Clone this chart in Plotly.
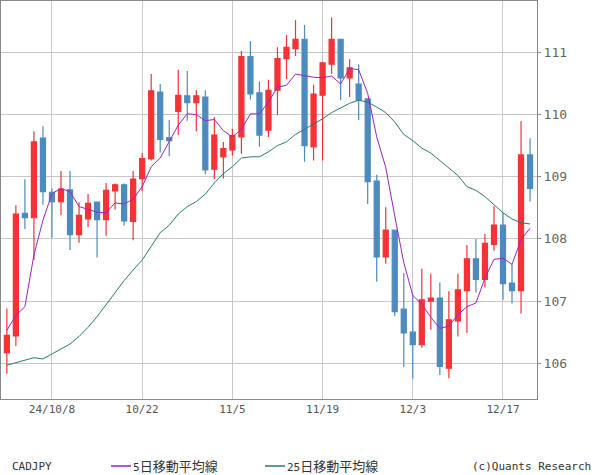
import plotly.graph_objects as go

dates = [
    "2024-10-01", "2024-10-02", "2024-10-03", "2024-10-04",
    "2024-10-07", "2024-10-08", "2024-10-09", "2024-10-10", "2024-10-11",
    "2024-10-14", "2024-10-15", "2024-10-16", "2024-10-17", "2024-10-18",
    "2024-10-21", "2024-10-22", "2024-10-23", "2024-10-24", "2024-10-25",
    "2024-10-28", "2024-10-29", "2024-10-30", "2024-10-31", "2024-11-01",
    "2024-11-04", "2024-11-05", "2024-11-06", "2024-11-07", "2024-11-08",
    "2024-11-11", "2024-11-12", "2024-11-13", "2024-11-14", "2024-11-15",
    "2024-11-18", "2024-11-19", "2024-11-20", "2024-11-21", "2024-11-22",
    "2024-11-25", "2024-11-26", "2024-11-27", "2024-11-28", "2024-11-29",
    "2024-12-02", "2024-12-03", "2024-12-04", "2024-12-05", "2024-12-06",
    "2024-12-09", "2024-12-10", "2024-12-11", "2024-12-12", "2024-12-13",
    "2024-12-16", "2024-12-17", "2024-12-18", "2024-12-19", "2024-12-20",
]

opens = [106.17, 106.44, 108.41, 108.34, 109.62, 108.75, 108.60, 108.79, 108.07, 108.32,
         108.59, 108.31, 108.77, 108.87, 108.28, 108.97, 109.29, 110.36, 109.63, 110.05,
         110.30, 110.19, 110.28, 109.12, 109.32, 109.43, 109.64, 110.93, 110.35, 109.75,
         110.39, 110.90, 111.06, 111.21, 109.48, 110.31, 110.81, 111.21, 110.59, 110.49,
         110.25, 108.93, 107.71, 108.14, 106.87, 106.50, 106.30, 107.00, 107.05, 105.92,
         106.68, 107.17, 107.68, 107.35, 107.91, 108.22, 107.29, 107.17, 109.35]
highs = [106.88, 108.54, 108.96, 109.73, 109.81, 108.81, 109.09, 109.09, 108.59, 108.72,
         108.59, 108.90, 108.89, 108.89, 109.09, 109.38, 110.65, 110.49, 109.91, 110.72,
         110.70, 110.39, 110.39, 109.96, 109.56, 109.77, 111.02, 111.18, 110.53, 110.56,
         111.08, 111.28, 111.52, 111.44, 110.48, 110.85, 111.56, 111.21, 110.89, 110.81,
         110.25, 109.03, 108.51, 108.14, 107.45, 107.10, 107.52, 107.44, 107.30, 107.16,
         107.44, 107.90, 108.00, 108.08, 108.53, 108.42, 107.60, 109.89, 109.62]
lows = [105.83, 106.28, 108.16, 107.66, 108.55, 108.02, 108.38, 107.82, 107.94, 108.19,
        107.70, 108.05, 108.47, 108.21, 107.98, 108.77, 109.26, 109.39, 109.33, 109.67,
        109.90, 109.73, 109.04, 108.96, 108.97, 109.34, 109.37, 110.24, 109.48, 109.64,
        109.99, 110.57, 110.94, 109.24, 109.26, 109.26, 110.65, 110.23, 110.28, 109.91,
        108.56, 107.31, 107.60, 106.76, 105.94, 105.75, 106.25, 106.54, 105.81, 105.76,
        106.43, 106.49, 107.14, 107.22, 107.81, 107.02, 106.96, 106.80, 108.60]
closes = [106.45, 108.40, 108.34, 109.56, 108.76, 108.60, 108.80, 108.07, 108.38, 108.57,
          108.31, 108.78, 108.87, 108.29, 108.96, 109.29, 110.38, 109.60, 109.58, 110.31,
          110.19, 110.30, 109.11, 109.67, 109.45, 109.66, 110.93, 110.33, 109.67, 110.39,
          110.90, 111.08, 111.21, 109.50, 110.33, 110.83, 111.21, 110.59, 110.75, 110.23,
          108.92, 107.71, 108.14, 106.83, 106.49, 106.30, 107.02, 107.05, 105.95, 106.70,
          107.18, 107.68, 107.35, 107.93, 108.22, 107.28, 107.17, 109.35, 108.81]

ma5 = [106.53, 106.77, 106.91, 107.74, 108.30, 108.73, 108.81, 108.76, 108.52, 108.48,
       108.43, 108.42, 108.58, 108.56, 108.64, 108.84, 109.16, 109.30, 109.56, 109.83,
       110.01, 110.00, 109.90, 109.92, 109.74, 109.64, 109.76, 110.01, 110.01, 110.20,
       110.44, 110.47, 110.65, 110.62, 110.60, 110.59, 110.62, 110.49, 110.74, 110.72,
       110.34, 109.64, 109.15, 108.37, 107.62, 107.09, 106.95, 106.74, 106.56, 106.60,
       106.78, 106.91, 106.97, 107.37, 107.67, 107.69, 107.59, 107.99, 108.17]
ma25 = [105.97, 106.01, 106.04, 106.09, 106.07, 106.15, 106.24, 106.31, 106.43, 106.58,
        106.75, 106.95, 107.15, 107.33, 107.50, 107.66, 107.88, 108.10, 108.22, 108.40,
        108.52, 108.60, 108.72, 108.90, 109.05, 109.16, 109.30, 109.32, 109.32, 109.40,
        109.50, 109.56, 109.68, 109.76, 109.85, 109.93, 110.03, 110.10, 110.18, 110.23,
        110.20, 110.12, 110.03, 109.88, 109.68, 109.58, 109.46, 109.38, 109.26, 109.13,
        109.02, 108.84, 108.78, 108.68, 108.55, 108.42, 108.32, 108.26, 108.24]

tick_dates = ["2024-10-08", "2024-10-22", "2024-11-05", "2024-11-19", "2024-12-03", "2024-12-17"]
tick_labels = ["24/10/8", "10/22", "11/5", "11/19", "12/3", "12/17"]
y_ticks = [106, 107, 108, 109, 110, 111]

RED = "#f53236"
BLUE = "#4d8bbe"
PURPLE = "#a020c8"
TEAL = "#2a7a72"
FONT = "DejaVu Sans Mono, Noto Sans CJK JP, sans-serif"

fig = go.Figure()
fig.add_trace(go.Candlestick(
    x=dates, open=opens, high=highs, low=lows, close=closes,
    increasing=dict(line=dict(color=RED, width=1.2), fillcolor=RED),
    decreasing=dict(line=dict(color=BLUE, width=1.2), fillcolor=BLUE),
    whiskerwidth=0, showlegend=False, hoverinfo="skip",
))
fig.add_trace(go.Scatter(x=dates, y=ma25, mode="lines",
                         line=dict(color=TEAL, width=1), showlegend=False, hoverinfo="skip"))
fig.add_trace(go.Scatter(x=dates, y=ma5, mode="lines",
                         line=dict(color=PURPLE, width=1), showlegend=False, hoverinfo="skip"))

fig.update_layout(
    width=600, height=475,
    margin=dict(l=1, r=63, t=1, b=76),
    paper_bgcolor="white", plot_bgcolor="white",
    boxgap=0.2,
    xaxis=dict(
        type="category", range=[-0.65, 58.77],
        tickvals=tick_dates, ticktext=tick_labels,
        showgrid=True, gridcolor="#c8c8c8", gridwidth=1,
        showline=True, mirror=True, linecolor="#888888", linewidth=1,
        ticks="", tickfont=dict(family=FONT, size=11, color="#555555"),
        rangeslider=dict(visible=False), fixedrange=True,
    ),
    yaxis=dict(
        side="right", range=[105.426, 111.825],
        tickvals=y_ticks, ticktext=[str(v) for v in y_ticks],
        showgrid=True, gridcolor="#c8c8c8", gridwidth=1,
        showline=True, mirror=True, linecolor="#888888", linewidth=1,
        ticks="outside", ticklen=3, tickcolor="#888888",
        tickfont=dict(family=FONT, size=13, color="#666666"),
        zeroline=False, fixedrange=True,
    ),
)

def px_x(px):
    return (px - 1) / 536.0

def px_y(py):
    return (399 - py) / 398.0

ly = px_y(466)
fig.add_shape(type="line", xref="paper", yref="paper",
              x0=px_x(111), x1=px_x(131), y0=ly, y1=ly,
              line=dict(color=PURPLE, width=1.5))
fig.add_shape(type="line", xref="paper", yref="paper",
              x0=px_x(265), x1=px_x(285), y0=ly, y1=ly,
              line=dict(color=TEAL, width=1.5))

legend_font = dict(family=FONT, size=11, color="#333333")
fig.add_annotation(text="CADJPY", xref="paper", yref="paper", x=px_x(10), y=ly,
                   xanchor="left", yanchor="middle", showarrow=False, font=legend_font)
fig.add_annotation(text='5<span style="font-size:13px">日移動平均線</span>',
                   xref="paper", yref="paper", x=px_x(131), y=ly,
                   xanchor="left", yanchor="middle", showarrow=False, font=legend_font)
fig.add_annotation(text='25<span style="font-size:13px">日移動平均線</span>',
                   xref="paper", yref="paper", x=px_x(285), y=ly,
                   xanchor="left", yanchor="middle", showarrow=False, font=legend_font)
fig.add_annotation(text="(c)Quants Research", xref="paper", yref="paper", x=px_x(593), y=ly,
                   xanchor="right", yanchor="middle", showarrow=False, font=legend_font)

fig.write_html("out.html")
